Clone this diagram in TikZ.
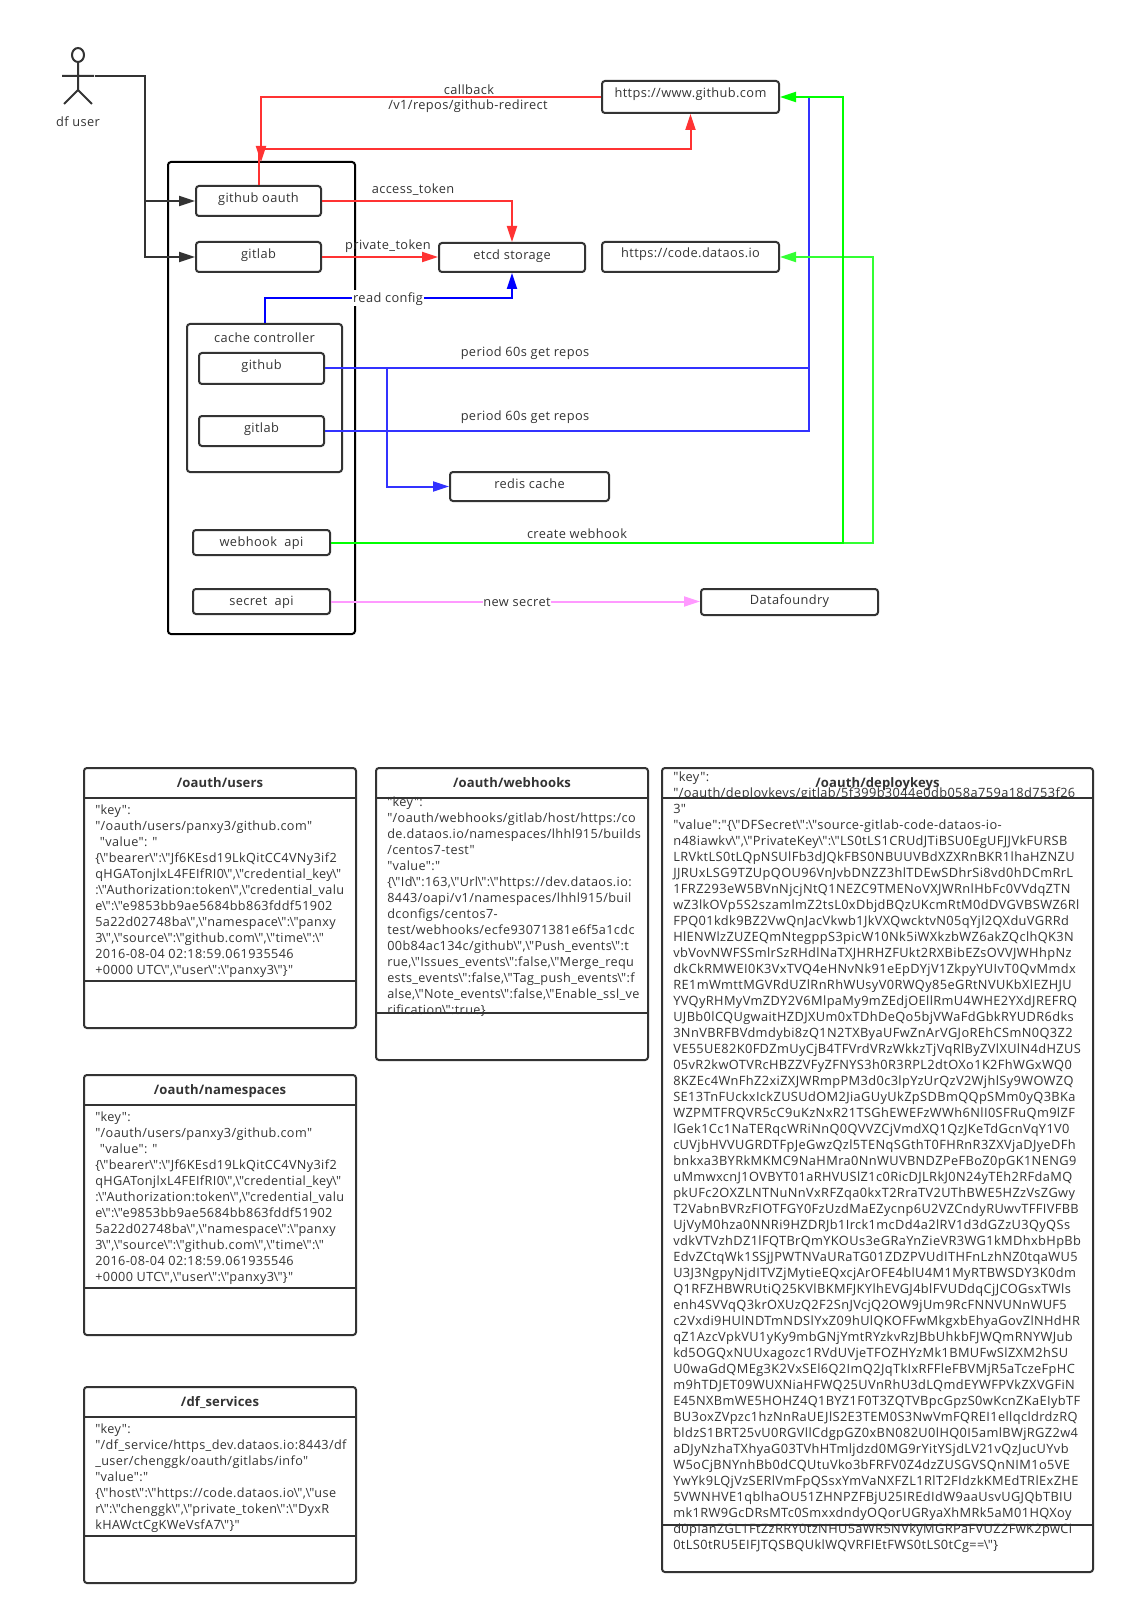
\documentclass[tikz,border=0pt]{standalone}
\usepackage{fontspec}
\usetikzlibrary{arrows.meta,calc}
\setmainfont{Open Sans}
\newfontfamily\plainfam[LetterSpace=3]{Open Sans}
\newfontfamily\titlefam[LetterSpace=1]{Open Sans}
\newdimen\pxu \pxu=0.75pt
\def\bs{\kern-0.4pt\char92\kern-0.6pt }
\newcommand{\bodyf}{\plainfam\fontsize{9.5pt}{12pt}\selectfont}
\newcommand{\deployf}{\plainfam\fontsize{9.6pt}{12pt}\selectfont}
\newcommand{\labf}{\plainfam\fontsize{9.6pt}{12pt}\selectfont}
\newcommand{\titf}{\titlefam\fontsize{9.8pt}{12pt}\selectfont\bfseries}
\colorlet{ink}{black!80}
\definecolor{lred}{HTML}{FF3333}
\definecolor{lblue}{HTML}{3333FF}
\definecolor{pblue}{HTML}{0000FF}
\definecolor{lgreen}{HTML}{00FF00}
\definecolor{mgreen}{HTML}{33FF33}
\definecolor{lpink}{HTML}{FF99FF}
\tikzset{
  rbox/.style={draw=ink,line width=1.5pt,rounded corners=2.2pt,inner sep=0pt,font=\labf,text=ink,text height=8.5pt,text depth=2pt,align=center},
  lab/.style={font=\labf,text=ink,inner sep=0pt,text height=8.5pt,text depth=2pt},
  wlab/.style={lab,fill=white,inner xsep=0.5pt,inner ysep=1pt},
  conn/.style={line width=1.5pt},
  tip/.style={-{Triangle[length=12pt,width=7.5pt]}},
  umlframe/.style={draw=ink,line width=1.5pt,rounded corners=2.2pt,inner sep=0pt},
  umlrule/.style={draw=ink,line width=1.5pt},
  umltitle/.style={font=\titf,text=ink,inner sep=0pt,text height=7pt,text depth=2pt},
  umlbody/.style={font=\bodyf,text=ink,inner sep=0pt,anchor=north west,align=left},
}
% name x1 y1 x2 y2 raise text
\newcommand{\rb}[7]{\node[rbox,minimum width={(#4-#2)*0.75pt},minimum height={(#5-#3)*0.75pt}] (#1) at ({(#2+#4)/2},{(#3+#5)/2}) {\raisebox{#6\pxu}{#7}};}
% name x1 y1 x2 y2
\newcommand{\uml}[8]{%
  \node[umlframe,minimum width={(#4-#2)*0.75pt},minimum height={(#5-#3)*0.75pt}] (#1) at ({(#2+#4)/2},{(#3+#5)/2}) {};
  \draw[umlrule] (#2,#6) -- (#4,#6);
  \draw[umlrule] (#2,#7) -- (#4,#7);
  \node[umltitle] (#1title) at ({(#2+#4)/2},{#6-13.5}) {#8};
}
\begin{document}
\begin{tikzpicture}[x=0.75pt,y=-0.75pt]
\useasboundingbox (0,0) rectangle (1124,1615);
% big frame
\node[draw=black,line width=1.5pt,rounded corners=2.2pt,inner sep=0pt,minimum width={187*0.75pt},minimum height={472*0.75pt}] (bigbox) at (261.5,398) {};
% actor
\draw[ink,line width=1.5pt] (78,55) ellipse (6 and 7);
\draw[ink,line width=1.5pt] (78,62) -- (78,90) (62,76) -- (94,76) (64,104) -- (78,90) -- (92,104);
\coordinate (userarm) at (95,76);
\coordinate (userj) at (145,76);
\node[lab] (userlabel) at (78,122) {df user};
% boxes
\rb{oauth}{196}{186}{321}{216}{3}{github oauth}
\rb{gitlabb}{196}{242}{321}{272}{3}{gitlab}
\rb{etcd}{439}{243}{585}{272}{2.5}{etcd storage}
\rb{ghub}{602}{81}{779}{113}{3.5}{https://www.github.com}
\rb{code}{602}{242}{779}{272}{3.5}{https://code.dataos.io}
\rb{cache}{187}{324}{342}{472}{60}{cache controller}
\rb{cgithub}{199}{353}{324}{384}{3}{github}
\rb{cgitlab}{199}{416}{324}{446}{3}{gitlab}
\rb{redis}{450}{472}{609}{501}{2.5}{redis cache}
\rb{webhook}{193}{530}{330}{555}{0}{webhook\ \ api}
\rb{secret}{193}{589}{330}{614}{0}{secret\ \ api}
\rb{dataf}{701}{589}{878}{615}{2}{Datafoundry}
% black connectors
\coordinate (v1) at (145,201);
\draw[conn,ink] (userarm) -- (userj) -- (v1);
\draw[conn,ink,tip] (userj) |- (oauth.west);
\draw[conn,ink,tip] (userj) |- (gitlabb.west);
% red connectors
\coordinate (cbend) at (261,162);
\coordinate (ghubup) at (690.5,149);
\draw[conn,lred,tip] (ghub.west) -| (cbend);
\draw[conn,lred,tip] (oauth.north) |- (ghubup) -- (ghub.south);
\draw[conn,lred,tip] (oauth.east) -| (etcd.north);
\draw[conn,lred,tip] (gitlabb.east) -- (etcd.west |- gitlabb.east);
% blue connectors
\coordinate (rcj) at (512,298);
\draw[conn,pblue,tip] (cache.north) |- (rcj) -- (etcd.south);
\coordinate (bj) at (809,97);
\draw[conn,lblue] (cgithub.east) -| (bj);
\draw[conn,lblue] (cgitlab.east) -| (bj);
\coordinate (rj) at (387,369);
\draw[conn,lblue,tip] (rj) |- (redis.west);
% green connectors
\coordinate (gj) at (843,97);
\coordinate (gk) at (873,257);
\draw[conn,mgreen,tip] (webhook.east) -| (gk) -- (code.east);
\draw[conn,lgreen,tip] (webhook.east) -| (gj) -- (ghub.east);
% pink
\draw[conn,lpink,tip] (secret.east) -- (dataf.west |- secret.east);
% labels
\node[lab] (l1) at (469,90) {callback};
\node[lab] (l2) at (468,105) {/v1/repos/github-redirect};
\node[lab] (l3) at (413,189) {access\_token};
\node[lab] (l4) at (388,245) {private\_token};
\node[wlab] (l5) at (388,298) {read config};
\node[lab] (l6) at (525,352) {period 60s get repos};
\node[lab] (l7) at (525,416) {period 60s get repos};
\node[lab] (l8) at (577,534) {create webhook};
\node[wlab] (l9) at (517,602) {new secret};
% users
\node[umlbody] (usersbody) at (95,803) {\strut"key":\\
"/oauth/users/panxy3/github.com"\\
\hspace*{3.5pt}"value": "\\
\{\bs"bearer\bs":\bs"Jf6KEsd19LkQitCC4VNy3if2\\
qHGATonjlxL4FEIfRI0\bs",\bs"credential\_key\bs"\\
:\bs"Authorization:token\bs",\bs"credential\_valu\\
e\bs":\bs"e9853bb9ae5684bb863fddf51902\\
5a22d02748ba\bs",\bs"namespace\bs":\bs"panxy\\
3\bs",\bs"source\bs":\bs"github.com\bs",\bs"time\bs":\bs"\\
2016-08-04 02:18:59.061935546\\
+0000 UTC\bs",\bs"user\bs":\bs"panxy3\bs"\}"};
\uml{users}{84}{768}{356}{1028}{798}{981}{/oauth/users}
% namespaces
\node[umlbody] (nsbody) at (95,1110) {\strut"key":\\
"/oauth/users/panxy3/github.com"\\
\hspace*{3.5pt}"value": "\\
\{\bs"bearer\bs":\bs"Jf6KEsd19LkQitCC4VNy3if2\\
qHGATonjlxL4FEIfRI0\bs",\bs"credential\_key\bs"\\
:\bs"Authorization:token\bs",\bs"credential\_valu\\
e\bs":\bs"e9853bb9ae5684bb863fddf51902\\
5a22d02748ba\bs",\bs"namespace\bs":\bs"panxy\\
3\bs",\bs"source\bs":\bs"github.com\bs",\bs"time\bs":\bs"\\
2016-08-04 02:18:59.061935546\\
+0000 UTC\bs",\bs"user\bs":\bs"panxy3\bs"\}"};
\uml{namespaces}{84}{1075}{356}{1335}{1105}{1288}{/oauth/namespaces}
% df_services
\node[umlbody] (dfbody) at (95,1422) {\strut"key":\\
"/df\_service/https\_dev.dataos.io:8443/df\\
\_user/chenggk/oauth/gitlabs/info"\\
"value":"\\
\{\bs"host\bs":\bs"https://code.dataos.io\bs",\bs"use\\
r\bs":\bs"chenggk\bs",\bs"private\_token\bs":\bs"DyxR\\
kHAWctCgKWeVsfA7\bs"\}"};
\uml{dfservices}{84}{1387}{356}{1583}{1417}{1536}{/df\_services}
% webhooks
\node[umlbody] (wbody) at (387,795) {\strut"key":\\
"/oauth/webhooks/gitlab/host/https:/co\\
de.dataos.io/namespaces/lhhl915/builds\\
/centos7-test"\\
"value":"\\
\{\bs"Id\bs":163,\bs"Url\bs":\bs"https://dev.dataos.io:\\
8443/oapi/v1/namespaces/lhhl915/buil\\
dconfigs/centos7-\\
test/webhooks/ecfe93071381e6f5a1cdc\\
00b84ac134c/github\bs",\bs"Push\_events\bs":t\\
rue,\bs"Issues\_events\bs":false,\bs"Merge\_requ\\
ests\_events\bs":false,\bs"Tag\_push\_events\bs":f\\
alse,\bs"Note\_events\bs":false,\bs"Enable\_ssl\_ve\\
rification\bs":true\}};
\uml{webhooks}{376}{768}{648}{1060}{798}{1013}{/oauth/webhooks}
% deploykeys
\node[umlbody,font=\deployf] (dbody) at (673,770) {\strut"key":\\
"/oauth/deploykeys/gitlab/5f399b3044e0db058a759a18d753f26\\
3"\\
"value":"\{\bs"DFSecret\bs":\bs"source-gitlab-code-dataos-io-\\
n48iawkv\bs",\bs"PrivateKey\bs":\bs"LS0tLS1CRUdJTiBSU0EgUFJJVkFURSB\\
LRVktLS0tLQpNSUlFb3dJQkFBS0NBUUVBdXZXRnBKR1lhaHZNZU\\
JJRUxLSG9TZUpQOU96VnJvbDNZZ3hlTDEwSDhrSi8vd0hDCmRrL\\
1FRZ293eW5BVnNjcjNtQ1NEZC9TMENoVXJWRnlHbFc0VVdqZTN\\
wZ3lkOVp5S2szamlmZ2tsL0xDbjdBQzUKcmRtM0dDVGVBSWZ6Rl\\
FPQ01kdk9BZ2VwQnJacVkwb1JkVXQwcktvN05qYjl2QXduVGRRd\\
HlENWlzZUZEQmNtegppS3picW10Nk5iWXkzbWZ6akZQclhQK3N\\
vbVovNWFSSmlrSzRHdlNaTXJHRHZFUkt2RXBibEZsOVVJWHhpNz\\
dkCkRMWEI0K3VxTVQ4eHNvNk91eEpDYjV1ZkpyYUIvT0QvMmdx\\
RE1mWmttMGVRdUZlRnRhWUsyV0RWQy85eGRtNVUKbXlEZHJU\\
YVQyRHMyVmZDY2V6MlpaMy9mZEdjOEllRmU4WHE2YXdJREFRQ\\
UJBb0lCQUgwaitHZDJXUm0xTDhDeQo5bjVWaFdGbkRYUDR6dks\\
3NnVBRFBVdmdybi8zQ1N2TXByaUFwZnArVGJoREhCSmN0Q3Z2\\
VE55UE82K0FDZmUyCjB4TFVrdVRzWkkzTjVqRlByZVlXUlN4dHZUS\\
05vR2kwOTVRcHBZZVFyZFNYS3h0R3RPL2dtOXo1K2FhWGxWQ0\\
8KZEc4WnFhZ2xiZXJWRmpPM3d0c3lpYzUrQzV2WjhlSy9WOWZQ\\
SE13TnFUckxIckZUSUdOM2JiaGUyUkZpSDBmQQpSMm0yQ3BKa\\
WZPMTFRQVR5cC9uKzNxR21TSGhEWEFzWWh6NlI0SFRuQm9lZF\\
lGek1Cc1NaTERqcWRiNnQ0QVVZCjVmdXQ1QzJKeTdGcnVqY1V0\\
cUVjbHVVUGRDTFpJeGwzQzl5TENqSGthT0FHRnR3ZXVjaDJyeDFh\\
bnkxa3BYRkMKMC9NaHMra0NnWUVBNDZPeFBoZ0pGK1NENG9\\
uMmwxcnJ1OVBYT01aRHVUSlZ1c0RicDJLRkJ0N24yTEh2RFdaMQ\\
pkUFc2OXZLNTNuNnVxRFZqa0kxT2RraTV2UThBWE5HZzVsZGwy\\
T2VabnBVRzFIOTFGY0FzUzdMaEZycnp6U2VZCndyRUwvTFFIVFBB\\
UjVyM0hza0NNRi9HZDRJb1Irck1mcDd4a2lRV1d3dGZzU3QyQSs\\
vdkVTVzhDZ1lFQTBrQmYKOUs3eGRaYnZieVR3WG1kMDhxbHpBb\\
EdvZCtqWk1SSjJPWTNVaURaTG01ZDZPVUdITHFnLzhNZ0tqaWU5\\
U3J3NgpyNjdITVZjMytieEQxcjArOFE4blU4M1MyRTBWSDY3K0dm\\
Q1RFZHBWRUtiQ25KVlBKMFJKYlhEVGJ4blFVUDdqCjJCOGsxTWls\\
enh4SVVqQ3krOXUzQ2F2SnJVcjQ2OW9jUm9RcFNNVUNnWUF5\\
c2Vxdi9HUlNDTmNDSlYxZ09hUlQKOFFwMkgxbEhyaGovZlNHdHR\\
qZ1AzcVpkVU1yKy9mbGNjYmtRYzkvRzJBbUhkbFJWQmRNYWJub\\
kd5OGQxNUUxagozc1RVdUVjeTFOZHYzMk1BMUFwSlZXM2hSU\\
U0waGdQMEg3K2VxSEl6Q2ImQ2JqTkIxRFFleFBVMjR5aTczeFpHC\\
m9hTDJET09WUXNiaHFWQ25UVnRhU3dLQmdEYWFPVkZXVGFiN\\
E45NXBmWE5HOHZ4Q1BYZ1F0T3ZQTVBpcGpzS0wKcnZKaEIybTF\\
BU3oxZVpzc1hzNnRaUEJlS2E3TEM0S3NwVmFQREI1ellqcldrdzRQ\\
bldzS1BRT25vU0RGVllCdgpGZ0xBN082U0lHQ0I5amlBWjRGZ2w4\\
aDJyNzhaTXhyaG03TVhHTmljdzd0MG9rYitYSjdLV21vQzJucUYvb\\
W5oCjBNYnhBb0dCQUtuVko3bFRFV0Z4dzZUSGVSQnNIM1o5VE\\
YwYk9LQjVzSERlVmFpQSsxYmVaNXFZL1RlT2FIdzkKMEdTRlExZHE\\
5VWNHVE1qblhaOU51ZHNPZFBjU25IREdIdW9aaUsvUGJQbTBIU\\
mk1RW9GcDRsMTc0SmxxdndyOQorUGRyaXhMRk5aM01HQXoy\\
d0pIanZGL1FtZzRRY0tzNHU5aWR5NVkyMGRPaFVUZ2FwK2pwCi\\
0tLS0tRU5EIFJTQSBQUklWQVRFIEtFWS0tLS0tCg==\bs"\}};
\fill[white] (664,799) rectangle (1091,803);
\uml{deploykeys}{662}{768}{1093}{1572}{798}{1525}{/oauth/deploykeys}
\end{tikzpicture}
\end{document}
